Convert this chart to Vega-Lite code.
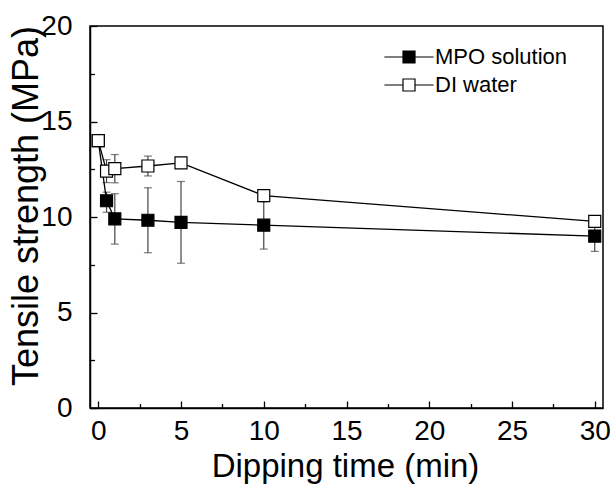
{
  "$schema": "https://vega.github.io/schema/vega-lite/v6.json",
  "width": 513,
  "height": 382,
  "autosize": "none",
  "padding": {"left": 90, "top": 26, "right": 8, "bottom": 76},
  "background": "white",
  "config": {
    "view": {"stroke": "black", "strokeWidth": 1.5},
    "font": "Liberation Sans",
    "axis": {"grid": false, "domainColor": "black", "domainWidth": 1.5, "tickColor": "black", "tickWidth": 1.3, "labelColor": "black", "titleColor": "black", "labelFont": "Liberation Sans", "titleFont": "Liberation Sans", "labelFontSize": 28, "labelFlush": false, "labelOverlap": false, "titleFontWeight": "normal"}
  },
  "data": {"values": [
    {"series": "MPO solution", "time": 0, "ts": 14.0, "lo": 13.9, "hi": 14.1},
    {"series": "MPO solution", "time": 0.5, "ts": 10.85, "lo": 10.25, "hi": 11.3},
    {"series": "MPO solution", "time": 1, "ts": 9.9, "lo": 8.58, "hi": 11.22},
    {"series": "MPO solution", "time": 3, "ts": 9.83, "lo": 8.13, "hi": 11.53},
    {"series": "MPO solution", "time": 5, "ts": 9.72, "lo": 7.58, "hi": 11.86},
    {"series": "MPO solution", "time": 10, "ts": 9.57, "lo": 8.32, "hi": 10.8},
    {"series": "MPO solution", "time": 30, "ts": 9.0, "lo": 8.2, "hi": 9.8},
    {"series": "DI water", "time": 0, "ts": 14.0, "lo": 13.9, "hi": 14.1},
    {"series": "DI water", "time": 0.5, "ts": 12.4, "lo": 11.8, "hi": 13.0},
    {"series": "DI water", "time": 1, "ts": 12.53, "lo": 11.79, "hi": 13.27},
    {"series": "DI water", "time": 3, "ts": 12.67, "lo": 12.15, "hi": 13.19},
    {"series": "DI water", "time": 5, "ts": 12.83, "lo": 12.65, "hi": 13.01},
    {"series": "DI water", "time": 10, "ts": 11.12, "lo": 10.9, "hi": 11.34},
    {"series": "DI water", "time": 30, "ts": 9.77, "lo": 9.47, "hi": 10.07}
  ]},
  "encoding": {
    "x": {
      "field": "time", "type": "quantitative",
      "scale": {"domain": [-0.5, 30.5], "nice": false, "zero": false},
      "axis": {
        "title": "Dipping time (min)", "titleFontSize": 33, "titleBaseline": "alphabetic", "titleX": 255, "titleY": 68.5,
        "values": [0, 2.5, 5, 7.5, 10, 12.5, 15, 17.5, 20, 22.5, 25, 27.5, 30],
        "labelExpr": "datum.value % 5 === 0 ? datum.label : ''",
        "tickSize": {"condition": {"test": "datum.value % 5 === 0", "value": -7}, "value": -4.5},
        "labelPadding": 16
      }
    },
    "y": {
      "field": "ts", "type": "quantitative",
      "scale": {"domain": [0, 20], "nice": false, "zero": false},
      "axis": {
        "title": "Tensile strength (MPa)", "titleFontSize": 36, "titleBaseline": "alphabetic", "titleX": -53, "titleY": 179.5, "titleAngle": -90, "titleAlign": "center",
        "values": [0, 2.5, 5, 7.5, 10, 12.5, 15, 17.5, 20],
        "labelExpr": "datum.value % 5 === 0 ? datum.label : ''",
        "tickSize": {"condition": {"test": "datum.value % 5 === 0", "value": -7}, "value": -4.5},
        "labelPadding": 25
      }
    }
  },
  "layer": [
    {
      "mark": {"type": "rule", "color": "#444", "strokeWidth": 1.2},
      "encoding": {"y": {"field": "lo", "type": "quantitative"}, "y2": {"field": "hi"}}
    },
    {
      "mark": {"type": "tick", "orient": "horizontal", "color": "#444", "size": 8, "thickness": 1.2},
      "encoding": {"y": {"field": "lo", "type": "quantitative"}}
    },
    {
      "mark": {"type": "tick", "orient": "horizontal", "color": "#444", "size": 8, "thickness": 1.2},
      "encoding": {"y": {"field": "hi", "type": "quantitative"}}
    },
    {
      "mark": {"type": "line", "color": "black", "strokeWidth": 1.3},
      "encoding": {"detail": {"field": "series"}}
    },
    {
      "mark": {"type": "point", "shape": "square", "filled": true, "stroke": "black", "strokeWidth": 1.2, "size": 144, "opacity": 1},
      "encoding": {
        "fill": {
          "field": "series", "type": "nominal",
          "scale": {"domain": ["MPO solution", "DI water"], "range": ["black", "white"]},
          "legend": {
            "title": null, "orient": "none", "legendX": 308, "legendY": 20, "padding": 0,
            "symbolType": "M-4.1,0H-1M1,0H4.1M-1,-1H1V1H-1Z", "symbolSize": 144, "symbolStrokeColor": "black", "symbolStrokeWidth": 1.2,
            "labelFontSize": 22, "labelFont": "Liberation Sans", "labelColor": "black", "labelOffset": 15, "rowPadding": 6
          }
        },
        "order": {"field": "series", "sort": "descending"}
      }
    }
  ]
}
